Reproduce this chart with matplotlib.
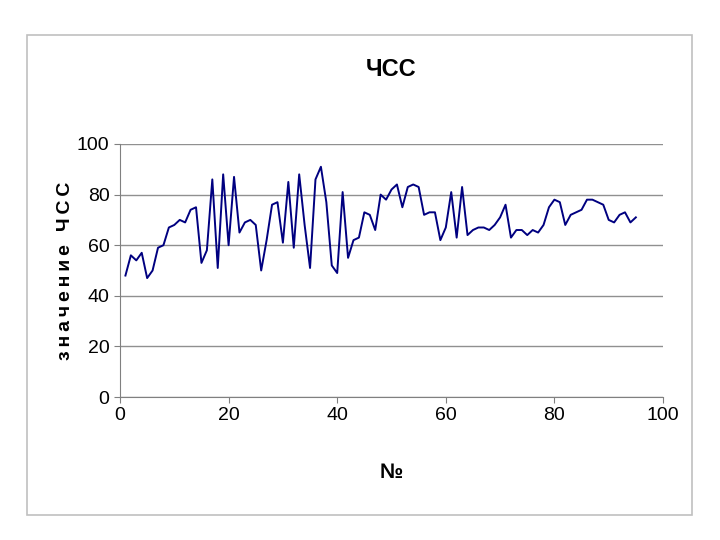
import matplotlib
matplotlib.use("Agg")
import matplotlib.pyplot as plt
from matplotlib.patches import Rectangle

plt.rcParams['font.family'] = ['Liberation Sans Narrow', 'Liberation Sans', 'DejaVu Sans']

# measurement number and heart rate value
nums = list(range(1, 96))
hr = [48, 56, 54, 57, 47, 50, 59, 60, 67, 68,
      70, 69, 74, 75, 53, 58, 86, 51, 88, 60,
      87, 65, 69, 70, 68, 50, 62, 76, 77, 61,
      85, 59, 88, 68, 51, 86, 91, 77, 52, 49,
      81, 55, 62, 63, 73, 72, 66, 80, 78, 82,
      84, 75, 83, 84, 83, 72, 73, 73, 62, 67,
      81, 63, 83, 64, 66, 67, 67, 66, 68, 71,
      76, 63, 66, 66, 64, 66, 65, 68, 75, 78,
      77, 68, 72, 73, 74, 78, 78, 77, 76, 70,
      69, 72, 73, 69, 71]
xticks = [0, 20, 40, 60, 80, 100]
yticks = [0, 20, 40, 60, 80, 100]

fig = plt.figure(figsize=(7.2, 5.4), dpi=100)
# light grey frame around the chart
fig.patches.append(Rectangle((27/720, 25/540), 665/720, 480/540, transform=fig.transFigure,
                             fill=False, edgecolor='#c0c0c0', linewidth=1.2))

ax = fig.add_axes([120/720, 143/540, 543/720, 253/540])
ax.plot(nums, hr, color='#000080', linewidth=1.4)

ax.set_xlim(0, 100)
ax.set_ylim(0, 100)
ax.set_xticks(xticks)
ax.set_yticks(yticks)
ax.tick_params(labelsize=14, length=4, color='#808080')
ax.yaxis.grid(True, color='#909090', linewidth=1)
ax.set_axisbelow(True)
for s in ['top', 'right']:
    ax.spines[s].set_visible(False)
for s in ['left', 'bottom']:
    ax.spines[s].set_color('#808080')

ax.set_title('ЧСС', fontsize=17, fontweight='bold', pad=49)
ax.set_xlabel('№', fontsize=15, fontweight='bold', labelpad=28)
ax.set_ylabel('\u2009'.join('значение ЧСС'), fontsize=14, fontweight='bold', labelpad=2)

fig.savefig('out.png', dpi=100)
